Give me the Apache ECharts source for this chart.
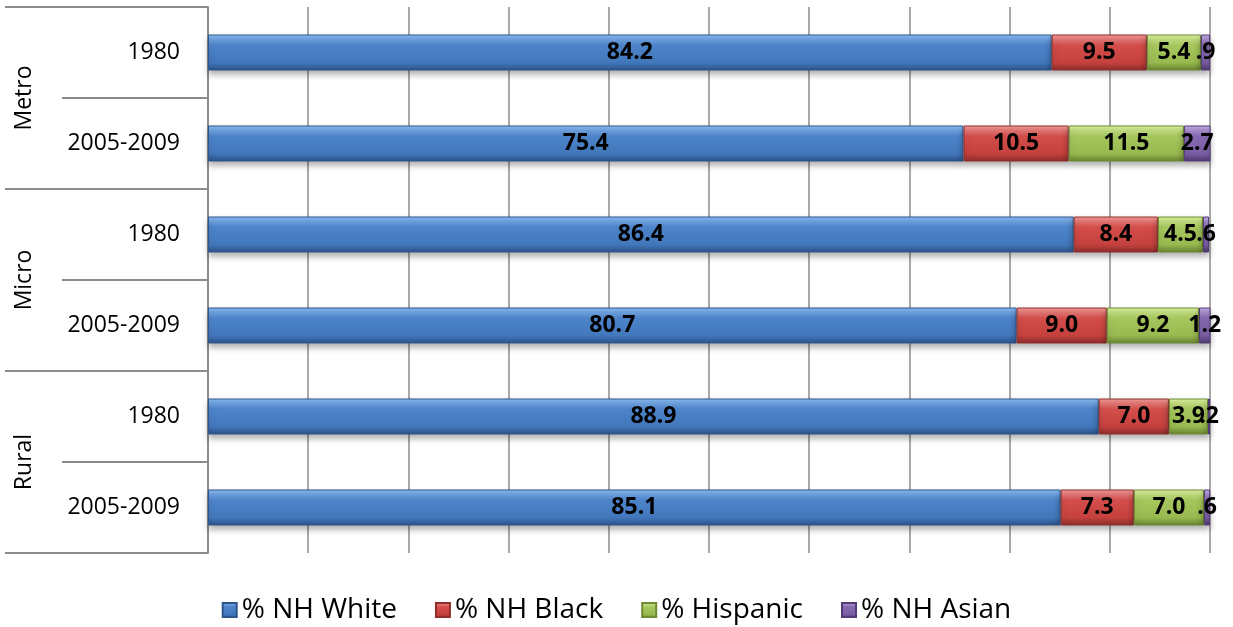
<!DOCTYPE html>
<html>
<head>
<meta charset="utf-8">
<script src="https://cdn.jsdelivr.net/npm/echarts@6/dist/echarts.min.js"></script>
<style>
  html, body { margin: 0; padding: 0; background: #fff; }
  #chart { width: 1233px; height: 627px; }
</style>
</head>
<body>
<div id="chart"></div>
<script>
// Population share by race/ethnicity, by area type and period
const periods = ['1980', '2005-2009', '1980', '2005-2009', '1980', '2005-2009'];
const areaGroups = ['Metro', 'Micro', 'Rural'];
const seriesNames = ['% NH White', '% NH Black', '% Hispanic', '% NH Asian'];
const nhWhite = [84.2, 75.4, 86.4, 80.7, 88.9, 85.1];
const nhBlack = [9.5, 10.5, 8.4, 9.0, 7.0, 7.3];
const hispanic = [5.4, 11.5, 4.5, 9.2, 3.9, 7.0];
const nhAsian = [0.9, 2.7, 0.6, 1.2, 0.2, 0.6];
const xTicks = [0, 10, 20, 30, 40, 50, 60, 70, 80, 90, 100];

const FONT = '"Open Sans", "Liberation Sans", sans-serif';

// bevelled fill: bright top rim fading into the body, darker lower edge
function bevel(hi, base, dark, rim) {
  return new echarts.graphic.LinearGradient(0, 0, 0, 1, [
    { offset: 0, color: hi },
    { offset: 0.3, color: base },
    { offset: 0.78, color: dark },
    { offset: 1, color: rim }
  ], false);
}

const palette = [
  { fill: bevel('#8cbdf6', '#4d84ca', '#4277bb', '#2c5188'), border: '#2f568a' },
  { fill: bevel('#f49d9a', '#d44e4b', '#c4413e', '#8a2d2a'), border: '#8f2f2c' },
  { fill: bevel('#ddf3a0', '#a6c75d', '#98b950', '#66822f'), border: '#6f8a36' },
  { fill: bevel('#c4ade8', '#8669b0', '#7a5ea4', '#4f386e'), border: '#533c76' }
];

function fmt(v) {
  const s = v.toFixed(1);
  return v < 1 ? s.replace(/^0/, '') : s;
}

const dataSets = [nhWhite, nhBlack, hispanic, nhAsian];

const series = seriesNames.map((name, i) => ({
  name: name,
  type: 'bar',
  stack: 'share',
  yAxisIndex: 0,
  barWidth: 36,
  data: dataSets[i],
  itemStyle: {
    color: palette[i].fill,
    borderColor: palette[i].border,
    borderWidth: 1,
    shadowColor: 'rgba(0,0,0,0.3)',
    shadowBlur: 6,
    shadowOffsetY: 4
  },
  label: {
    show: true,
    position: 'inside',
    color: '#000',
    fontFamily: FONT,
    fontWeight: 'bold',
    fontSize: 23,
    formatter: p => fmt(p.value)
  },
  emphasis: { disabled: true }
}));

const chart = echarts.init(document.getElementById('chart'));
chart.setOption({
  animation: false,
  backgroundColor: '#fff',
  grid: { left: 208, right: 23, top: 7, bottom: 74, containLabel: false },
  xAxis: {
    type: 'value',
    min: xTicks[0],
    max: xTicks[xTicks.length - 1],
    interval: xTicks[1] - xTicks[0],
    axisLine: { show: false },
    axisTick: { show: false },
    axisLabel: { show: false },
    splitLine: { show: true, lineStyle: { color: '#8c8c8c', width: 1.5 } }
  },
  yAxis: [
    {
      type: 'category',
      data: periods,
      inverse: true,
      position: 'left',
      axisLine: { show: true, lineStyle: { color: '#8c8c8c', width: 2 } },
      axisTick: { show: true, length: 146, lineStyle: { color: '#8c8c8c', width: 2 } },
      axisLabel: { color: '#000', fontFamily: FONT, fontSize: 23, margin: 28 }
    },
    {
      type: 'category',
      data: areaGroups,
      inverse: true,
      position: 'left',
      axisLine: { show: false },
      axisTick: { show: true, length: 203, lineStyle: { color: '#8c8c8c', width: 2 } },
      axisLabel: { color: '#000', fontFamily: FONT, fontSize: 23, rotate: 90, margin: 172 }
    }
  ],
  legend: {
    data: seriesNames,
    left: 'center',
    top: 591,
    icon: 'rect',
    itemWidth: 14,
    itemHeight: 14,
    itemGap: 38,
    textStyle: { color: '#000', fontFamily: FONT, fontSize: 28 }
  },
  series: series
});
</script>
</body>
</html>
